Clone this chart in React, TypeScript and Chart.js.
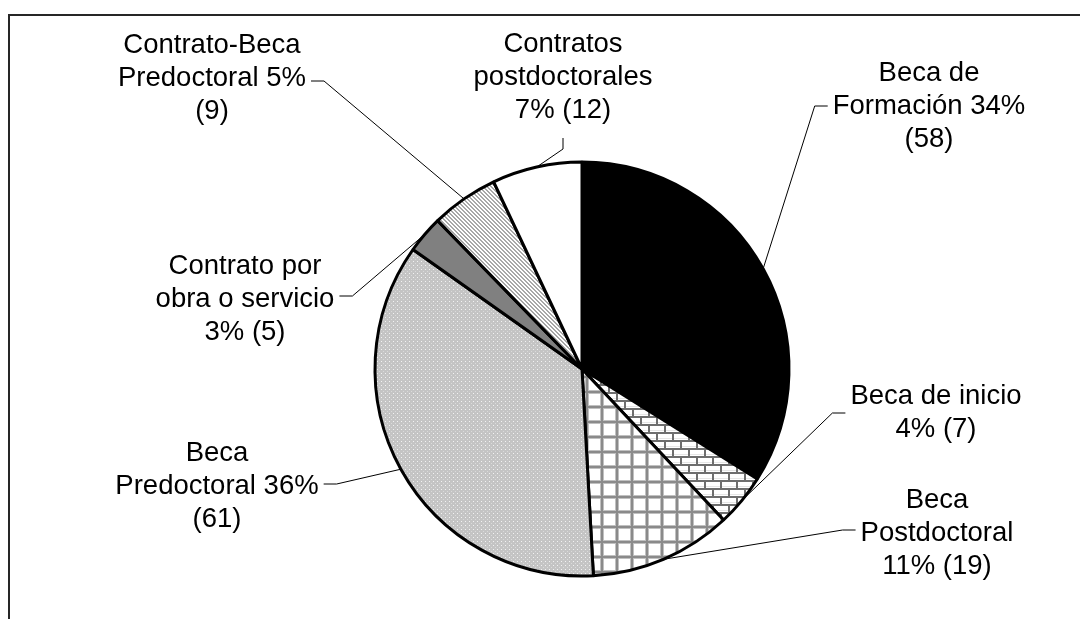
import React, { useEffect, useRef } from "react";
import { Chart, registerables } from "chart.js";

Chart.register(...registerables);

// ---- data ----
const categories = [
  "Beca de Formación",
  "Beca de inicio",
  "Beca Postdoctoral",
  "Beca Predoctoral",
  "Contrato por obra o servicio",
  "Contrato-Beca Predoctoral",
  "Contratos postdoctorales",
];
const counts = [58, 7, 19, 61, 5, 9, 12];
const labelLines = [
  ["Beca de", "Formación {p}", "({n})"],
  ["Beca de inicio", "{p} ({n})"],
  ["Beca", "Postdoctoral", "{p} ({n})"],
  ["Beca", "Predoctoral {p}", "({n})"],
  ["Contrato por", "obra o servicio", "{p} ({n})"],
  ["Contrato-Beca", "Predoctoral {p}", "({n})"],
  ["Contratos", "postdoctorales", "{p} ({n})"],
];
const fillKinds = ["black", "brick", "grid", "dots", "gray", "diagonal", "white"];

// ---- label layout (styling) ----
const labelLayout = [
  { x: 929, y: 81, side: "left", ay: 106 },
  { x: 936, y: 404, side: "left", ay: 413 },
  { x: 937, y: 508, side: "left", ay: 530 },
  { x: 217, y: 461, side: "right", ay: 484 },
  { x: 245, y: 274, side: "right", ay: 296 },
  { x: 212, y: 53, side: "right", ay: 81 },
  { x: 563, y: 52, side: "bottom", ay: 0 },
];
const FONT = '27.5px "Liberation Sans", Arial, sans-serif';
const LINE_H = 33;

function makePattern(w: number, h: number, draw: (g: CanvasRenderingContext2D) => void) {
  const c = document.createElement("canvas");
  c.width = w;
  c.height = h;
  const g = c.getContext("2d")!;
  draw(g);
  return g.createPattern(c, "repeat")!;
}

function buildFill(kind: string): any {
  switch (kind) {
    case "black":
      return "#000000";
    case "gray":
      return "#808080";
    case "white":
      return "#ffffff";
    case "brick":
      return makePattern(16, 16, (g) => {
        g.fillStyle = "#ffffff";
        g.fillRect(0, 0, 16, 16);
        g.fillStyle = "#e6e6e6";
        g.fillRect(2, 6, 14, 1);
        g.fillRect(0, 14, 8, 1);
        g.fillRect(10, 14, 6, 1);
        g.fillStyle = "#6e6e6e";
        g.fillRect(0, 0, 16, 2);
        g.fillRect(0, 8, 16, 2);
        g.fillRect(0, 0, 2, 8);
        g.fillRect(8, 8, 2, 8);
      });
    case "grid":
      return makePattern(15, 15, (g) => {
        g.fillStyle = "#ffffff";
        g.fillRect(0, 0, 15, 15);
        g.fillStyle = "#c0c0c0";
        g.fillRect(0, 0, 15, 4);
        g.fillRect(0, 0, 4, 15);
        g.fillStyle = "#8a8a8a";
        g.fillRect(0, 1, 15, 2);
        g.fillRect(1, 0, 2, 15);
      });
    case "dots":
      return makePattern(4, 4, (g) => {
        g.fillStyle = "#c4c4c4";
        g.fillRect(0, 0, 4, 4);
        g.fillStyle = "#f2f2f2";
        g.fillRect(1, 1, 1, 1);
        g.fillStyle = "#dadada";
        g.fillRect(3, 3, 1, 1);
      });
    case "diagonal":
      return makePattern(4, 4, (g) => {
        g.fillStyle = "#ffffff";
        g.fillRect(0, 0, 4, 4);
        g.fillStyle = "#a8a8a8";
        for (let y = 0; y < 4; y++) {
          g.fillRect(y % 4, y, 1, 1);
          g.fillRect((y + 1) % 4, y, 1, 1);
        }
      });
    default:
      return "#ffffff";
  }
}

const labelPlugin = {
  id: "pieLabels",
  afterDraw(chart: any) {
    const ctx: CanvasRenderingContext2D = chart.ctx;
    const meta = chart.getDatasetMeta(0);
    const data: number[] = chart.data.datasets[0].data;
    const total = data.reduce((a, b) => a + b, 0);
    ctx.save();
    // frame
    ctx.strokeStyle = "#262626";
    ctx.lineWidth = 2;
    ctx.strokeRect(9, 15, 1300, 900);

    ctx.font = FONT;
    ctx.textAlign = "center";
    ctx.textBaseline = "alphabetic";
    meta.data.forEach((arc: any, i: number) => {
      const L = labelLayout[i];
      const p = Math.round((data[i] / total) * 100) + "%";
      const lines = labelLines[i].map((s) => s.replace("{p}", p).replace("{n}", String(data[i])));
      ctx.fillStyle = "#000";
      let maxW = 0;
      lines.forEach((s, k) => {
        ctx.fillText(s, L.x, L.y + k * LINE_H);
        maxW = Math.max(maxW, ctx.measureText(s).width);
      });
      const { x, y, startAngle, endAngle, outerRadius } = arc.getProps(
        ["x", "y", "startAngle", "endAngle", "outerRadius"],
        true
      );
      const mid = (startAngle + endAngle) / 2;
      const px = x + Math.cos(mid) * outerRadius;
      const py = y + Math.sin(mid) * outerRadius;
      ctx.strokeStyle = "#000";
      ctx.lineWidth = 1;
      ctx.beginPath();
      if (L.side === "left") {
        const bx = L.x - maxW / 2 - 5;
        ctx.moveTo(bx, L.ay);
        ctx.lineTo(bx - 13, L.ay);
        ctx.lineTo(px, py);
      } else if (L.side === "right") {
        const bx = L.x + maxW / 2 + 5;
        ctx.moveTo(bx, L.ay);
        ctx.lineTo(bx + 13, L.ay);
        ctx.lineTo(px, py);
      } else {
        const lastB = L.y + (lines.length - 1) * LINE_H;
        ctx.moveTo(L.x, lastB + 20);
        ctx.lineTo(L.x, lastB + 31);
        ctx.lineTo(px, py);
      }
      ctx.stroke();
    });
    ctx.restore();
  },
};

export default function App() {
  const ref = useRef<HTMLCanvasElement | null>(null);
  useEffect(() => {
    document.body.style.margin = "0";
    const canvas = ref.current!;
    const chart = new Chart(canvas, {
      type: "pie",
      data: {
        labels: categories,
        datasets: [
          {
            data: counts,
            backgroundColor: fillKinds.map(buildFill),
            borderColor: "#000000",
            borderWidth: 3,
          },
        ],
      },
      options: {
        responsive: false,
        animation: false,
        radius: 207,
        layout: { padding: { left: 84, right: 0, top: 119, bottom: 0 } },
        plugins: {
          legend: { display: false },
          tooltip: { enabled: false },
        },
      } as any,
      plugins: [labelPlugin],
    });
    return () => chart.destroy();
  }, []);
  return (
    <div style={{ width: 1080, height: 619, background: "#fff" }}>
      <canvas ref={ref} width={1080} height={619} style={{ display: "block" }} />
    </div>
  );
}
